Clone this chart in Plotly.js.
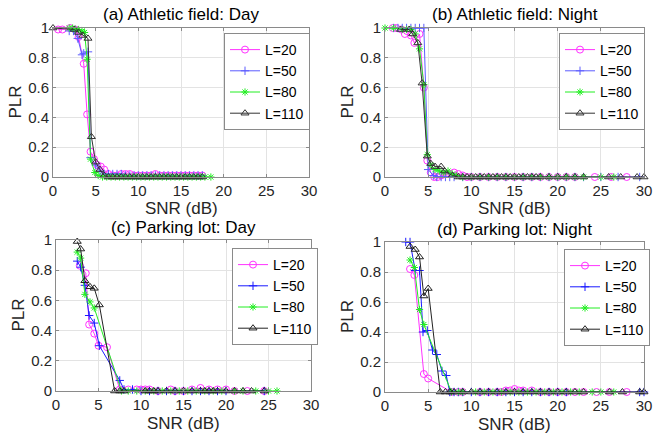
<!DOCTYPE html>
<html>
<head>
<meta charset="utf-8">
<script src="https://cdn.plot.ly/plotly-3.0.1.min.js"></script>
<style>html,body{margin:0;padding:0;background:#fff;}#chart{width:654px;height:435px;}</style>
</head>
<body>
<div id="chart"></div>
<script>
// ---------- DATA ----------
const seriesNames = ["L=20", "L=50", "L=80", "L=110"];
const panelTitles = ["(a) Athletic field: Day", "(b) Athletic field: Night", "(c) Parking lot: Day", "(d) Parking lot: Night"];
const xTickVals = [0, 5, 10, 15, 20, 25, 30];
const yTickVals = [0, 0.2, 0.4, 0.6, 0.8, 1];
const yTickText = ["0", "0.2", "0.4", "0.6", "0.8", "1"];

// (a) Athletic field: Day
const a_L20_x = [0.6,1.1,2.0,2.6,3.0,3.6,4.0,4.4,4.8,5.2,5.6,6.0,6.5,7.0,7.5,8.0,8.5,9.0,9.5,10.0,10.5,11.0,11.5,12.0,12.5,13.0,13.5,14.0,14.5,15.0,15.5,16.0,16.5,17.0,17.5];
const a_L20_y = [0.99,0.99,1.0,0.99,0.94,0.76,0.42,0.17,0.12,0.08,0.07,0.05,0.02,0.01,0.01,0.02,0.02,0.02,0.01,0.01,0.01,0.01,0.01,0.02,0.01,0.01,0.01,0.01,0.01,0.01,0.01,0.01,0.01,0.01,0.01];
const a_L50_x = [1.9,2.4,2.9,3.4,3.6,4.1,4.4,5.0,5.5,6.0,6.5,7.0,7.5,8.0,8.5,9.0,9.5,10.0,10.5,11.0,11.5,12.0,12.5,13.0,13.5,14.0,14.5,15.0,15.5,16.0,16.5,17.0,17.5];
const a_L50_y = [0.98,0.98,0.93,0.82,0.83,0.84,0.13,0.08,0.04,0.02,0.02,0.02,0.02,0.02,0.01,0.01,0.01,0.01,0.01,0.01,0.01,0.01,0.01,0.01,0.01,0.01,0.01,0.01,0.01,0.01,0.01,0.01,0.01];
const a_L80_x = [1.9,2.3,2.6,3.0,3.4,3.7,4.0,4.4,4.9,5.3,5.8,6.3,6.8,7.3,7.8,8.3,8.8,9.3,9.8,10.3,10.8,11.3,11.8,12.3,12.8,13.3,13.8,14.3,14.8,15.3,15.8,16.3,16.8,17.3,17.8,18.5];
const a_L80_y = [1.0,1.0,0.99,0.99,0.98,0.97,0.79,0.12,0.03,0.01,0.0,0.0,0.0,0.0,0.0,0.0,0.0,0.0,0.0,0.0,0.0,0.0,0.0,0.0,0.0,0.0,0.0,0.0,0.0,0.0,0.0,0.0,0.0,0.0,0.0,0.0];
const a_L110_x = [0.0,2.5,3.0,3.5,4.1,4.5,5.0,5.5,6.0,6.5,7.0,7.5,8.0,8.5,9.0,9.5,10.0,10.5,11.0,11.5,12.0,12.5,13.0,13.5,14.0,14.5,15.0,15.5,16.0,16.5,17.0,17.5];
const a_L110_y = [1.0,0.99,0.97,0.95,0.93,0.27,0.10,0.05,0.01,0.0,0.0,0.0,0.0,0.0,0.0,0.0,0.0,0.0,0.0,0.0,0.0,0.0,0.0,0.0,0.0,0.0,0.0,0.0,0.0,0.0,0.0,0.0];

// (b) Athletic field: Night
const b_L20_x = [0.9,1.3,1.9,2.3,3.0,3.4,4.0,4.5,4.9,5.3,5.7,6.1,6.5,7.0,7.5,8.0,8.5,9.0,9.5,10.0,11.0,12.0,13.0,14.0,15.0,16.0,17.0,18.0,19.0,20.0,21.0,22.0,24.3,26.2,28.0];
const b_L20_y = [1.0,1.0,0.99,0.96,0.95,0.90,0.96,0.60,0.11,0.03,0.0,0.0,0.01,0.02,0.02,0.03,0.02,0.01,0.0,0.0,0.0,0.0,0.0,0.0,0.0,0.0,0.0,0.0,0.0,0.0,0.0,0.0,0.0,0.0,0.0];
const b_L50_x = [1.0,1.5,2.0,2.5,3.0,3.5,4.0,4.5,5.0,5.6,6.0,6.5,7.0,7.5,8.0,9.0,10.0,11.0,12.0,13.0,14.0,15.0,16.0,17.0,18.0,19.0,20.0,21.0,22.0,23.0,25.0,27.0,29.5];
const b_L50_y = [1.0,1.0,1.0,1.0,1.0,1.0,1.0,1.0,0.05,0.01,0.0,0.0,0.0,0.0,0.0,0.0,0.0,0.0,0.0,0.0,0.0,0.0,0.0,0.0,0.0,0.0,0.0,0.0,0.0,0.0,0.0,0.0,0.0];
const b_L80_x = [0.0,1.0,2.0,2.5,3.0,3.5,4.0,4.5,4.9,5.3,5.8,6.3,6.8,7.3,7.8,8.3,9.0,10.0,11.0,12.0,13.0,14.0,15.0,16.0,17.0,18.0,19.0,20.0,21.0,22.0,23.0,25.0,26.5];
const b_L80_y = [1.0,1.0,0.99,0.99,0.99,0.96,0.86,0.62,0.15,0.08,0.05,0.04,0.03,0.04,0.02,0.01,0.0,0.0,0.0,0.0,0.0,0.0,0.0,0.0,0.0,0.0,0.0,0.0,0.0,0.0,0.0,0.0,0.0];
const b_L110_x = [1.8,2.8,3.2,3.8,4.3,4.9,5.3,5.8,6.5,6.9,7.8,8.5,9.0,9.5,10.0,10.5,11.0,11.5,12.0,12.5,13.0,13.5,14.0,14.5,15.0,15.5,16.0,16.5,17.0,17.5,18.0,19.0,20.0,21.0,22.0,23.0,25.9,27.3,29.2,30.0];
const b_L110_y = [0.99,0.99,0.96,0.90,0.63,0.14,0.09,0.07,0.07,0.04,0.01,0.0,0.0,0.0,0.0,0.0,0.0,0.0,0.0,0.0,0.0,0.0,0.0,0.0,0.0,0.0,0.0,0.0,0.0,0.0,0.0,0.0,0.0,0.0,0.0,0.0,0.0,0.0,0.0,0.0];

// (c) Parking lot: Day
const c_L20_x = [2.8,3.5,3.9,4.5,5.0,6.0,7.5,8.5,9.5,10.0,10.5,11.0,12.0,13.5,14.0,15.0,16.0,17.0,18.0,19.0,20.0,21.0,22.5,24.5];
const c_L20_y = [0.83,0.78,0.44,0.38,0.30,0.29,0.01,0.01,0.01,0.01,0.01,0.01,0.0,0.01,0.0,0.0,0.01,0.02,0.01,0.01,0.01,0.0,0.0,0.0];
const c_L50_x = [2.5,2.9,3.4,3.9,4.5,5.1,7.5,8.0,9.0,10.0,11.0,12.0,13.0,14.0,15.0,16.0,17.0,18.0,19.0,20.0,24.5];
const c_L50_y = [0.86,0.82,0.70,0.50,0.45,0.30,0.07,0.01,0.01,0.0,0.0,0.0,0.0,0.0,0.0,0.0,0.0,0.0,0.0,0.0,0.0];
const c_L80_x = [2.5,2.9,3.4,4.0,4.5,7.7,8.5,9.5,10.5,11.5,12.5,13.5,14.5,15.5,16.5,17.5,18.5,19.5,21.0,22.0,23.5,25.0,26.0];
const c_L80_y = [0.92,0.88,0.64,0.59,0.55,0.0,0.0,0.0,0.0,0.0,0.0,0.0,0.0,0.0,0.0,0.0,0.0,0.0,0.0,0.0,0.0,0.0,0.0];
const c_L110_x = [2.5,2.9,3.4,4.0,4.5,5.1,6.9,7.5,8.0,10.5,11.0,11.5,12.0,13.0,14.0,15.0,16.0,17.0,17.5,18.0,18.5,19.0,20.0,21.0,22.0,23.0,24.5];
const c_L110_y = [0.99,0.94,0.73,0.69,0.68,0.57,0.0,0.0,0.0,0.0,0.0,0.0,0.0,0.0,0.0,0.0,0.0,0.0,0.0,0.0,0.0,0.0,0.0,0.0,0.0,0.0,0.0];

// (d) Parking lot: Night
const d_L20_x = [2.9,3.4,4.5,5.0,7.7,8.5,9.0,11.0,12.0,13.0,13.5,14.0,14.5,15.0,15.5,16.0,17.0,18.0,19.0,20.0,21.0,22.0,23.0,24.5,26.0,28.0];
const d_L20_y = [0.82,0.78,0.12,0.09,0.0,0.0,0.0,0.0,0.0,0.0,0.0,0.01,0.01,0.02,0.01,0.01,0.01,0.0,0.0,0.0,0.0,0.0,0.0,0.0,0.0,0.0];
const d_L50_x = [2.4,2.9,3.5,4.0,4.4,4.9,5.5,6.0,6.6,7.1,7.5,8.0,8.5,9.0,10.0,11.0,12.0,13.0,14.0,15.0,16.0,17.0,18.0,19.0,20.0,21.0,29.5,30.0];
const d_L50_y = [1.0,1.0,0.81,0.81,0.40,0.41,0.28,0.25,0.14,0.11,0.0,0.0,0.0,0.0,0.0,0.0,0.0,0.0,0.0,0.0,0.0,0.0,0.0,0.0,0.0,0.0,0.0,0.0];
const d_L80_x = [2.9,3.4,4.0,4.5,7.7,8.5,9.0,10.5,11.5,12.5,13.5,14.5,15.5,16.5,17.5,18.5,19.5,20.5,21.5,22.5,24.0,25.0,26.5];
const d_L80_y = [0.88,0.83,0.55,0.45,0.0,0.0,0.0,0.0,0.0,0.0,0.0,0.0,0.0,0.0,0.0,0.0,0.0,0.0,0.0,0.0,0.0,0.0,0.0];
const d_L110_x = [2.9,3.5,4.0,4.5,5.0,6.4,7.0,7.5,8.0,9.0,10.0,11.0,12.0,13.0,14.0,15.0,16.0,17.0,18.0,19.0,20.0,21.0,22.0,23.0,26.0,27.5,29.5,30.0];
const d_L110_y = [0.97,0.95,0.90,0.64,0.69,0.0,0.0,0.0,0.0,0.0,0.0,0.0,0.0,0.0,0.0,0.0,0.0,0.0,0.0,0.0,0.0,0.0,0.0,0.0,0.0,0.0,0.0,0.0];

// ---------- STYLE ----------
const W = 654, H = 435;
const px = v => v / W;
const py = v => 1 - v / H;
const symbols = ["circle-open", "cross-thin-open", "asterisk-open", "triangle-up-open"];
const sizes = [7, 6, 6, 7];
const colorsTop = ["#ff33ff", "#5c5cff", "#22ee22", "#333333"];
const colorsBot = ["#ff33ff", "#1a1aff", "#22ee22", "#222222"];

const panels = [
  {xs:[a_L20_x,a_L50_x,a_L80_x,a_L110_x], ys:[a_L20_y,a_L50_y,a_L80_y,a_L110_y], box:[53,309,28,177], leg:[224,33], colors:colorsTop},
  {xs:[b_L20_x,b_L50_x,b_L80_x,b_L110_x], ys:[b_L20_y,b_L50_y,b_L80_y,b_L110_y], box:[385,644,28,177], leg:[559,33], colors:colorsTop},
  {xs:[c_L20_x,c_L50_x,c_L80_x,c_L110_x], ys:[c_L20_y,c_L50_y,c_L80_y,c_L110_y], box:[56,311,240,391], leg:[232,248], colors:colorsBot},
  {xs:[d_L20_x,d_L50_x,d_L80_x,d_L110_x], ys:[d_L20_y,d_L50_y,d_L80_y,d_L110_y], box:[385,644,242,392], leg:[564,249], colors:colorsBot}
];

const traces = [];
const layout = {
  width: W, height: H,
  margin: {l:0, r:0, t:0, b:0},
  paper_bgcolor: "#ffffff", plot_bgcolor: "#ffffff",
  font: {family: "Liberation Sans, Arial, sans-serif", color: "#262626", size: 14},
  showlegend: true,
  annotations: []
};

panels.forEach((p, i) => {
  const n = i === 0 ? "" : String(i + 1);
  const legName = i === 0 ? "legend" : "legend" + (i + 1);
  for (let k = 0; k < 4; k++) {
    traces.push({
      type: "scatter", mode: "lines+markers",
      x: p.xs[k], y: p.ys[k], name: seriesNames[k],
      xaxis: "x" + n, yaxis: "y" + n, legend: legName,
      line: {color: p.colors[k], width: 1},
      marker: {symbol: symbols[k], size: sizes[k], color: p.colors[k], line: {color: p.colors[k], width: 1}},
      cliponaxis: false
    });
  }
  const [l, r, t, b] = p.box;
  const axCommon = {
    showline: true, mirror: "ticks", linecolor: "#8a8a8a", linewidth: 1,
    showgrid: true, gridcolor: "#e3e3e3", gridwidth: 1, zeroline: false,
    ticks: "inside", ticklen: 3, tickcolor: "#8a8a8a",
    tickfont: {size: 15, color: "#262626"}, automargin: false, fixedrange: true
  };
  layout["xaxis" + n] = Object.assign({}, axCommon, {
    domain: [px(l), px(r)], range: [0, 30], tickvals: xTickVals, ticktext: xTickVals.map(String),
    anchor: "y" + n
  });
  layout["yaxis" + n] = Object.assign({}, axCommon, {
    domain: [py(b), py(t)], range: [0, 1], tickvals: yTickVals, ticktext: yTickText,
    anchor: "x" + n
  });
  layout[legName] = {
    x: px(p.leg[0]), y: py(p.leg[1]), xanchor: "left", yanchor: "top",
    bgcolor: "#ffffff", bordercolor: "#8a8a8a", borderwidth: 1,
    font: {size: 14, color: "#000000"}, itemwidth: 30, tracegroupgap: 0
  };
  const cx = (l + r) / 2;
  layout.annotations.push(
    {text: panelTitles[i], xref: "paper", yref: "paper", x: px(cx), y: py(t - 13), xanchor: "center", yanchor: "middle", showarrow: false, font: {size: 17, color: "#000000"}},
    {text: "SNR (dB)", xref: "paper", yref: "paper", x: px(cx), y: py(b + 32), xanchor: "center", yanchor: "middle", showarrow: false, font: {size: 17, color: "#262626"}},
    {text: "PLR", xref: "paper", yref: "paper", x: px(l - 38), y: py((t + b) / 2), xanchor: "center", yanchor: "middle", textangle: -90, showarrow: false, font: {size: 17, color: "#262626"}}
  );
});

Plotly.newPlot("chart", traces, layout, {staticPlot: true, displayModeBar: false});
</script>
</body>
</html>
